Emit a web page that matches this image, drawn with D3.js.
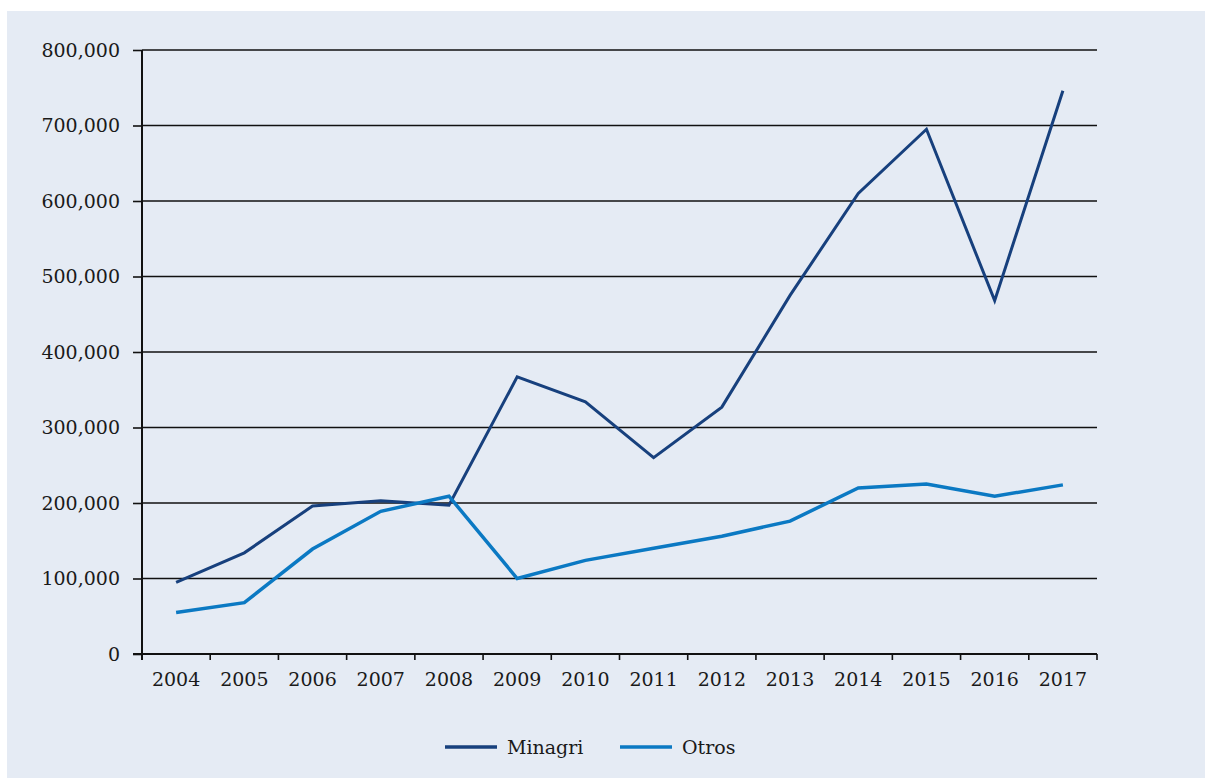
<!DOCTYPE html>
<html>
<head>
<meta charset="utf-8">
<script src="https://cdn.jsdelivr.net/npm/d3@7/dist/d3.min.js"></script>
<style>
  html, body { margin: 0; padding: 0; background: #ffffff; }
  svg { display: block; }
  text { font-family: "DejaVu Serif", "Liberation Serif", serif; fill: #1a1a1a; }
</style>
</head>
<body>
<script>
const years = ["2004","2005","2006","2007","2008","2009","2010","2011","2012","2013","2014","2015","2016","2017"];
const minagri = [95000, 134000, 196000, 203000, 197000, 367000, 334000, 260000, 327000, 475000, 610000, 695000, 468000, 746000];
const otros = [55000, 68000, 139000, 189000, 209000, 100000, 124000, 140000, 156000, 176000, 220000, 225000, 209000, 224000];
const yTicks = [0, 100000, 200000, 300000, 400000, 500000, 600000, 700000, 800000];
const seriesNames = ["Minagri", "Otros"];
const seriesColors = ["#17407d", "#0b79c3"];

(function () {
const W = 1205, H = 778;
const svg = d3.select("body").append("svg").attr("width", W).attr("height", H);

svg.append("rect").attr("x", 7).attr("y", 11).attr("width", W - 7).attr("height", H - 11).attr("fill", "#e5ebf4");

const mLeft = 142, mRight = 1097, mTop = 50, mBottom = 654;
const x = d3.scaleBand().domain(years).range([mLeft, mRight]).padding(0);
const y = d3.scaleLinear().domain([0, 800000]).range([mBottom, mTop]);

// gridlines
svg.append("g").selectAll("line").data(yTicks.filter(d => d > 0)).join("line")
  .attr("x1", mLeft).attr("x2", mRight)
  .attr("y1", d => y(d)).attr("y2", d => y(d))
  .attr("stroke", "#111").attr("stroke-width", 1.4);

// y axis
const yAxis = svg.append("g").attr("transform", `translate(${mLeft},0)`)
  .call(d3.axisLeft(y).tickValues(yTicks).tickSize(9).tickPadding(13).tickFormat(d3.format(",")));
yAxis.select(".domain").remove();
yAxis.selectAll(".tick line").attr("stroke", "#111").attr("stroke-width", 1.6);
yAxis.selectAll("text").attr("font-size", 19).style("font-family", "'DejaVu Serif', serif").attr("fill", "#1a1a1a");
svg.append("line").attr("x1", mLeft).attr("x2", mLeft).attr("y1", mTop).attr("y2", mBottom + 6)
  .attr("stroke", "#111").attr("stroke-width", 2);

// x axis
const xAxis = svg.append("g").attr("transform", `translate(0,${mBottom})`)
  .call(d3.axisBottom(x).tickSize(0).tickPadding(18.5));
xAxis.select(".domain").remove();
xAxis.selectAll("text").attr("font-size", 19).style("font-family", "'DejaVu Serif', serif").attr("fill", "#1a1a1a");
svg.append("line").attr("x1", mLeft - 9).attr("x2", mRight).attr("y1", mBottom).attr("y2", mBottom)
  .attr("stroke", "#111").attr("stroke-width", 2);
const bounds = years.map(d => x(d)).concat([x(years[years.length - 1]) + x.bandwidth()]);
svg.append("g").selectAll("line").data(bounds).join("line")
  .attr("x1", d => d).attr("x2", d => d).attr("y1", mBottom).attr("y2", mBottom + 6)
  .attr("stroke", "#111").attr("stroke-width", 1.6);

// lines
const line = d3.line().x((d, i) => x(years[i]) + x.bandwidth() / 2).y(d => y(d));
[minagri, otros].forEach((s, k) => {
  svg.append("path").datum(s).attr("d", line).attr("fill", "none")
    .attr("stroke", seriesColors[k]).attr("stroke-width", k === 0 ? 3 : 3.5)
    .attr("stroke-linejoin", "miter");
});

// legend
const legendItems = [{x: 445, name: seriesNames[0], c: seriesColors[0]}, {x: 620, name: seriesNames[1], c: seriesColors[1]}];
const lg = svg.append("g");
legendItems.forEach((it) => {
  lg.append("line").attr("x1", it.x).attr("x2", it.x + 52).attr("y1", 747).attr("y2", 747)
    .attr("stroke", it.c).attr("stroke-width", 3.5);
  lg.append("text").attr("x", it.x + 62).attr("y", 754).attr("font-size", 19).text(it.name);
});
})();
</script>
</body>
</html>
